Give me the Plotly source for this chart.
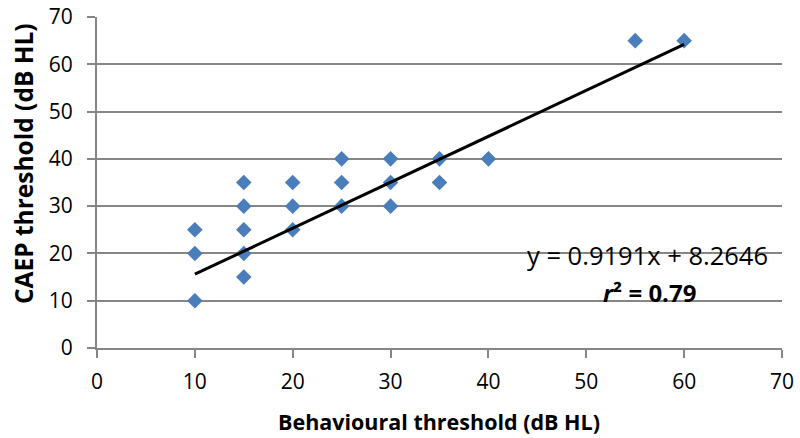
import plotly.graph_objects as go

behavioural = [10, 10, 10, 15, 15, 15, 15, 15, 20, 20, 20, 25, 25, 25, 30, 30, 30, 35, 35, 40, 55, 60]
caep = [25, 20, 10, 35, 30, 25, 20, 15, 35, 30, 25, 40, 35, 30, 40, 35, 30, 40, 35, 40, 65, 65]
trend_x = [10, 60]
trend_y = [15.6, 64.2]
equation_text = "y = 0.9191x + 8.2646"
r2_text = "<b><i>r</i>² = 0.79</b>"

FONT = "Open Sans"
W, H = 800, 438
L, R, T, B = 97, 18, 17, 90
PW, PH = W - L - R, H - T - B

def px(xp):
    return (xp - L) / PW

def py(yp):
    return (H - B - yp) / PH

fig = go.Figure()
fig.add_trace(go.Scatter(x=behavioural, y=caep, mode="markers",
                         marker=dict(symbol="diamond", size=12, color="#4a7ebb",
                                     line=dict(width=0)), showlegend=False))
fig.add_trace(go.Scatter(x=trend_x, y=trend_y, mode="lines",
                         line=dict(color="black", width=3), showlegend=False))

fig.add_annotation(xref="paper", yref="paper", x=px(647), y=py(255),
                   text=equation_text, showarrow=False,
                   font=dict(family=FONT, size=25.5, color="black"), xanchor="center", yanchor="middle")
fig.add_annotation(xref="paper", yref="paper", x=px(649), y=py(292),
                   text=r2_text, showarrow=False,
                   font=dict(family=FONT, size=24, color="black"), xanchor="center", yanchor="middle")
fig.add_annotation(xref="paper", yref="paper", x=px(439), y=py(421),
                   text="<b>Behavioural threshold (dB HL)</b>", showarrow=False,
                   font=dict(family=FONT, size=21.5, color="black"), xanchor="center", yanchor="middle")
fig.add_annotation(xref="paper", yref="paper", x=px(23), y=py(164),
                   text="<b>CAEP threshold (dB HL)</b>", showarrow=False, textangle=-90,
                   font=dict(family=FONT, size=24.5, color="black"), xanchor="center", yanchor="middle")

fig.update_xaxes(range=[0, 70], dtick=10, showgrid=False, showline=True, linecolor="#868686",
                 linewidth=2, ticks="outside", ticklen=8, tickcolor="#868686", tickwidth=2,
                 zeroline=False, automargin=False, ticklabelstandoff=6,
                 tickfont=dict(family=FONT, size=21, color="black"))
fig.update_yaxes(range=[0, 70], dtick=10, showgrid=True, gridcolor="#868686", gridwidth=2,
                 showline=True, linecolor="#868686", linewidth=2, ticks="outside", ticklen=8,
                 tickcolor="#868686", tickwidth=2, zeroline=False, automargin=False,
                 ticklabelstandoff=10,
                 tickfont=dict(family=FONT, size=21, color="black"))
fig.update_layout(width=W, height=H, margin=dict(l=L, r=R, t=T, b=B, autoexpand=False),
                  plot_bgcolor="white", paper_bgcolor="white")
fig.write_html("out.html")
